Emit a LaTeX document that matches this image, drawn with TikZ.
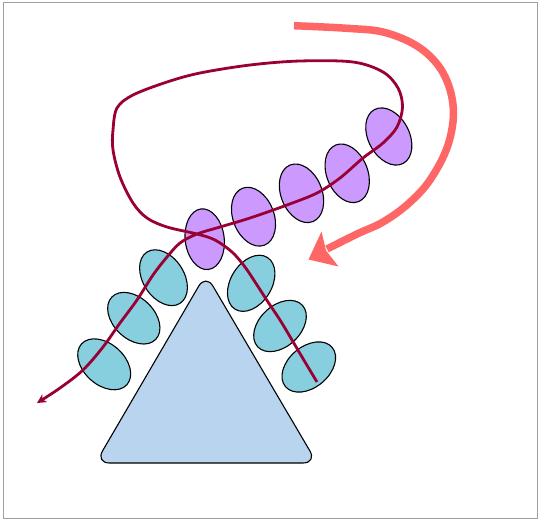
\documentclass[tikz,border=0pt]{standalone}
\usetikzlibrary{arrows.meta,shapes.geometric}
\definecolor{cyanfill}{RGB}{135,207,223}
\definecolor{purplefill}{RGB}{204,153,255}
\definecolor{trifill}{RGB}{185,212,238}
\definecolor{crimson}{RGB}{153,0,51}
\definecolor{salmon}{RGB}{255,102,102}
\definecolor{framegray}{RGB}{160,160,160}
\begin{document}
\begin{tikzpicture}[x=1pt,y=-1pt,
  bead/.style={ellipse, draw=black, line width=1.1pt, minimum width=61pt, minimum height=41pt, inner sep=0pt},
  cbead/.style={bead, fill=cyanfill},
  pbead/.style={bead, fill=purplefill},
  thread/.style={draw=crimson, line width=2.8pt},
  bigarrow/.style={draw=salmon, line width=7.5pt},
  tri/.style={draw=black, line width=1.1pt, fill=trifill, rounded corners=14pt}]
\useasboundingbox (0,0) rectangle (541,522);
\draw[framegray, line width=1.2pt] (3.5,2.5) rectangle (537.5,518.5);
% triangle
\draw[tri] (205.8,274) -- (317,463) -- (95.5,463) -- cycle;
% cyan beads
\node[cbead, rotate=-42] (c1) at (104.2,364.3) {};
\node[cbead, rotate=-44] (c2) at (133.8,318.2) {};
\node[cbead, rotate=-57] (c3) at (163.5,277.7) {};
\node[cbead, rotate=58] (c4) at (251.2,283.3) {};
\node[cbead, rotate=43] (c5) at (280,326) {};
\node[cbead, rotate=40] (c6) at (308.8,367) {};
% purple beads
\node[pbead, rotate=-83, minimum width=61pt, minimum height=39pt] (p1) at (204.7,239.2) {};
\node[pbead, rotate=-69] (p2) at (253.5,216.7) {};
\node[pbead, rotate=-68] (p3) at (301.5,193.3) {};
\node[pbead, rotate=-68] (p4) at (347.2,173.3) {};
\node[pbead, rotate=-62] (p5) at (388.8,136.5) {};
% thread
\draw[thread, -{Stealth[length=9pt,width=9pt,inset=2.5pt]}] plot[smooth, tension=0.55] coordinates {
 (317,382) (305,362) (292,340) (280,320) (268,302) (257,285) (245,267) (232,252) (215,240) (197,234)
 (167,227) (147,218) (133,203) (120,177) (113,150) (113,130) (117,108) (133,95) (167,82) (200,73)
 (250,65) (300,61) (353,62) (383,72) (398,88) (402.5,107) (397,127) (383,143) (363,158) (340,178)
 (317,193) (287,205) (250,218) (220,227) (197,234) (180,243) (167,257) (153,275) (137,300) (120,323)
 (103,347) (83,370) (60,388) (37,403)};
% big red arrow
\draw[bigarrow] plot[smooth, tension=0.6] coordinates {
 (294,25.7) (346.7,28.3) (385,32.5) (420,48) (443.3,73.3) (453.3,108)
 (448,145) (430,180) (408,204) (383,222) (357,234) (327,249)};
\fill[salmon] (308.5,259.5) -- (321.5,231.5) -- (326,250.5) -- (338.5,266.5) -- cycle;
\end{tikzpicture}
\end{document}
